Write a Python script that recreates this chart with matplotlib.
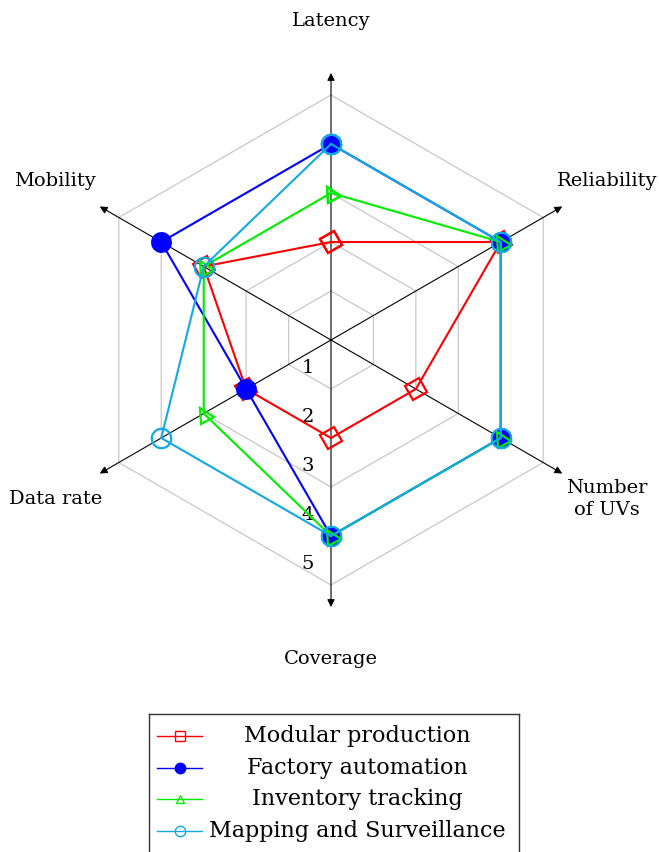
import numpy as np
import matplotlib
matplotlib.use("Agg")
import matplotlib.pyplot as plt
from matplotlib.markers import MarkerStyle
from matplotlib.transforms import Affine2D

plt.rcParams['font.family'] = ['DejaVu Serif']

# ---------------- data ----------------
categories = ['Latency', 'Reliability', 'Number\nof UVs', 'Coverage', 'Data rate', 'Mobility']
modular = [2, 4, 2, 2, 2, 3]
factory = [4, 4, 4, 4, 2, 4]
inventory = [3, 4, 4, 4, 3, 3]
mapping = [4, 4, 4, 4, 4, 3]
series_names = ['Modular production', 'Factory automation',
                'Inventory tracking', 'Mapping and Surveillance']
levels = [1, 2, 3, 4, 5]
tick_labels = ['1', '2', '3', '4', '5']

# ---------------- styles ----------------
colors = ['#FF0000', '#0000FF', '#00EE00', '#12A9E6']
markers = ['s', 'o', '^', 'o']
filled = [False, True, False, False]
msizes = [11.5, 13.5, 10.5, 14]
legend_ms = [7, 7.5, 6, 7.5]

W, H = 659, 852
fig = plt.figure(figsize=(W / 100, H / 100), dpi=100)

cx, cy = 331, H - 340
unit = 49
R = 6.0
half = R * unit
ax = fig.add_axes([(cx - half) / W, (cy - half) / H, 2 * half / W, 2 * half / H],
                  projection='polar')
ax.set_theta_offset(np.pi / 2)
ax.set_theta_direction(-1)
ax.set_ylim(0, R)
ax.axis('off')

n = len(categories)
thetas = np.deg2rad(np.arange(n) * 360.0 / n)
closed = np.append(thetas, thetas[0])

# grid hexagons
for lv in levels:
    ax.plot(closed, [lv] * (n + 1), color='#C8C8C8', lw=0.9, zorder=1, clip_on=False)

# axis arrows
for th in thetas:
    ax.annotate('', xy=(th, 5.45), xytext=(th, 0),
                arrowprops=dict(arrowstyle='-|>', color='black', lw=0.8,
                                shrinkA=0, shrinkB=0, mutation_scale=11),
                zorder=2, annotation_clip=False)

# axis labels
for th, lab in zip(thetas, categories):
    ax.text(th, 6.5, lab, ha='center', va='center', fontsize=14,
            linespacing=1.3, clip_on=False)

# level tick labels along Coverage axis
cov_theta = thetas[3]
for lv, tl in zip(levels, tick_labels):
    ax.annotate(tl, xy=(cov_theta, lv), xytext=(-16.6, 15.0),
                textcoords='offset points', ha='center', va='center',
                fontsize=14, annotation_clip=False)

# data series
rot = Affine2D().rotate_deg(30)
all_series = [modular, factory, inventory, mapping]
for i, vals in enumerate(all_series):
    v = np.append(vals, vals[0])
    ms = MarkerStyle(markers[i], transform=rot)
    ax.plot(closed, v, color=colors[i], lw=1.5, marker=ms, markersize=msizes[i],
            markerfacecolor=colors[i] if filled[i] else 'none',
            markeredgecolor=colors[i], markeredgewidth=1.6,
            zorder=3 + i, clip_on=False)

# ---------------- legend (manual, centered text) ----------------
lx0, lx1 = 149, 519
ly_top = 714
ly_bot = 880
lax = fig.add_axes([lx0 / W, (H - ly_bot) / H, (lx1 - lx0) / W, (ly_bot - ly_top) / H])
lax.set_xlim(0, lx1 - lx0)
lax.set_ylim(ly_bot - ly_top, 0)
lax.set_xticks([])
lax.set_yticks([])
for sp in lax.spines.values():
    sp.set_color('#333333')
    sp.set_linewidth(1.0)

row_y = [22, 54, 85, 117]
for i, name in enumerate(series_names):
    y = row_y[i]
    lax.plot([8, 53], [y, y], color=colors[i], lw=1.0)
    lax.plot([31], [y], marker=markers[i], markersize=legend_ms[i],
             color=colors[i], markerfacecolor=colors[i] if filled[i] else 'none',
             markeredgewidth=1.0)
    lax.text(208, y, name, ha='center', va='center', fontsize=16)

fig.savefig('out.png', dpi=100)
